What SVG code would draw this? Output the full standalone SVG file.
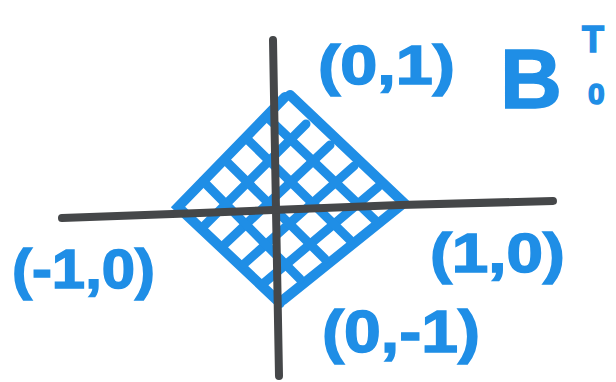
<svg xmlns="http://www.w3.org/2000/svg" width="616" height="382" viewBox="0 0 616 382">
<style>
.axis{stroke:#454749;stroke-width:8;stroke-linecap:round;fill:none}
.edge{stroke:#1f8ee6;stroke-width:10;stroke-linecap:round;fill:none}
.hatch{stroke:#1f8ee6;stroke-width:9;stroke-linecap:round;fill:none}
.lbl{font-family:"Liberation Sans",Arial,sans-serif;font-weight:bold;fill:#1f8ee6;stroke:#1f8ee6;stroke-width:1.5}
</style>
<rect width="616" height="382" fill="#ffffff"/>
<g id="region">
<path class="edge" d="M285,97 L178,207 L280,303"/>
<path class="edge" d="M290,95 L404,203 L283,300"/>
<g id="hatching">
<line class="hatch" x1="204" y1="226" x2="306" y2="124"/>
<line class="hatch" x1="224" y1="245" x2="330" y2="145"/>
<line class="hatch" x1="244" y1="264" x2="354" y2="166"/>
<line class="hatch" x1="264" y1="283" x2="378" y2="187"/>
<line class="hatch" x1="203" y1="181" x2="300" y2="279"/>
<line class="hatch" x1="225" y1="160" x2="325" y2="259"/>
<line class="hatch" x1="246" y1="138" x2="350" y2="240"/>
<line class="hatch" x1="268" y1="118" x2="375" y2="220"/>
</g>
</g>
<g id="connectors">
<path class="axis" d="M273,40 L276,210 L279,376"/>
<path class="axis" d="M62,218 L200,213 L400,205 L553,201"/>
</g>
<g id="labels">
<text class="lbl" x="318" y="84" font-size="56" textLength="137" lengthAdjust="spacingAndGlyphs">(0,1)</text>
<text class="lbl" x="12" y="288" font-size="56" textLength="143" lengthAdjust="spacingAndGlyphs">(-1,0)</text>
<text class="lbl" x="430" y="272" font-size="56" textLength="135" lengthAdjust="spacingAndGlyphs">(1,0)</text>
<text class="lbl" x="322" y="352" font-size="60" textLength="158" lengthAdjust="spacingAndGlyphs">(0,-1)</text>
<text class="lbl" x="500" y="108" font-size="84" textLength="62" lengthAdjust="spacingAndGlyphs">B</text>
<text class="lbl" x="582" y="52" font-size="36">T</text>
<text class="lbl" x="588" y="104" font-size="30">0</text>
</g>
</svg>
